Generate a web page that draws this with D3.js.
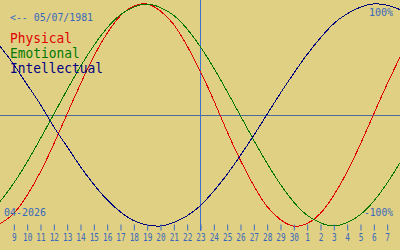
<!DOCTYPE html>
<html lang="en">
<head>
    <meta charset="UTF-8">
    <title>Biorhythm</title>
    <style>
        body { margin: 0; background: #e0d084; }
        svg { display: block; }
        text { font-family: "DejaVu Sans Mono", monospace; }
        .curve { fill: none; stroke-width: 1; shape-rendering: crispEdges; }
        .axis text { fill: #3868bc; font-size: 11px; }
        .axis line { stroke: #3c6cc0; }
    </style>
</head>
<body>
    <script src="https://d3js.org/d3.v7.min.js"></script>
    <script>

        // days shown: 8 April -> 8 May 2026, one value per day
        var days = ["8", "9", "10", "11", "12", "13", "14", "15", "16", "17", "18", "19", "20", "21", "22",
            "23", "24", "25", "26", "27", "28", "29", "30", "1", "2", "3", "4", "5", "6", "7", "8"];

        var physical = [-0.98, -0.89, -0.73, -0.52, -0.27, 0, 0.27, 0.52, 0.73, 0.89, 0.98, 1.0, 0.94, 0.82, 0.63,
            0.40, 0.14, -0.14, -0.40, -0.63, -0.82, -0.94, -1.0, -0.98, -0.89, -0.73, -0.52, -0.27, 0, 0.27, 0.52];

        var emotional = [-0.78, -0.62, -0.43, -0.22, 0, 0.22, 0.43, 0.62, 0.78, 0.90, 0.97, 1.0, 0.97, 0.90, 0.78,
            0.62, 0.43, 0.22, 0, -0.22, -0.43, -0.62, -0.78, -0.90, -0.97, -1.0, -0.97, -0.90, -0.78, -0.62, -0.43];

        var intellectual = [0.62, 0.46, 0.28, 0.10, -0.10, -0.28, -0.46, -0.62, -0.76, -0.87, -0.95, -0.99, -1.0, -0.97, -0.91,
            -0.82, -0.69, -0.54, -0.37, -0.19, 0, 0.19, 0.37, 0.54, 0.69, 0.82, 0.91, 0.97, 1.0, 0.99, 0.95];

        var birthLabel = "<-- 05/07/1981";
        var monthLabel = "04-2026";
        var series = [
            { name: "Physical", values: physical, color: "#e00000" },
            { name: "Emotional", values: emotional, color: "#007800" },
            { name: "Intellectual", values: intellectual, color: "#000080" }
        ];
        var today = 15; // index of 23 April

        var width = 400;
        var height = 250;

        var x = d3.scaleLinear().domain([0, days.length - 1]).range([0, width]);
        var y = d3.scaleLinear().domain([-1, 1]).range([226, 4]);

        var svg = d3.select("body").append("svg")
            .attr("width", width)
            .attr("height", height);

        svg.append("rect")
            .attr("width", width)
            .attr("height", height)
            .attr("fill", "#e0d084");

        // zero line
        svg.append("line")
            .attr("x1", 0).attr("x2", width)
            .attr("y1", Math.round(y(0)) + 0.5).attr("y2", Math.round(y(0)) + 0.5)
            .attr("stroke", "#4e6c98");

        // today marker
        svg.append("line")
            .attr("x1", Math.round(x(today)) + 0.5).attr("x2", Math.round(x(today)) + 0.5)
            .attr("y1", 0).attr("y2", 231)
            .attr("stroke", "#3c70d0");

        var line = d3.line()
            .x(function (d, i) { return x(i); })
            .y(function (d) { return y(d); })
            .curve(d3.curveNatural);

        svg.selectAll("path.curve")
            .data(series)
            .enter().append("path")
            .attr("class", "curve")
            .attr("stroke", function (d) { return d.color; })
            .attr("d", function (d) { return line(d.values); });

        // day axis
        var axis = d3.axisBottom(x)
            .tickValues(d3.range(1, days.length - 1))
            .tickFormat(function (i) { return days[i]; })
            .tickSize(6)
            .tickPadding(3);

        var g = svg.append("g")
            .attr("class", "axis")
            .attr("transform", "translate(0.5,224.5)")
            .call(axis);
        g.select(".domain").remove();
        g.selectAll("text")
            .attr("font-family", null)
            .attr("font-size", null)
            .attr("transform", "scale(0.7,1)");

        // labels
        svg.append("text")
            .attr("x", 10).attr("y", 21)
            .attr("fill", "#3868bc")
            .attr("font-size", "11px")
            .attr("textLength", 83)
            .attr("lengthAdjust", "spacingAndGlyphs")
            .text(birthLabel);

        svg.selectAll("text.legend")
            .data(series)
            .enter().append("text")
            .attr("class", "legend")
            .attr("x", 10)
            .attr("y", function (d, i) { return 43 + i * 15; })
            .attr("fill", function (d) { return d.color; })
            .attr("font-size", "13.5px")
            .attr("textLength", function (d) { return d.name.length * 7.75; })
            .attr("lengthAdjust", "spacingAndGlyphs")
            .text(function (d) { return d.name; });

        svg.append("text")
            .attr("x", 393).attr("y", 16)
            .attr("text-anchor", "end")
            .attr("fill", "#3868bc")
            .attr("font-size", "11px")
            .attr("textLength", 24)
            .attr("lengthAdjust", "spacingAndGlyphs")
            .text("100%");

        svg.append("text")
            .attr("x", 393).attr("y", 216)
            .attr("text-anchor", "end")
            .attr("fill", "#3868bc")
            .attr("font-size", "11px")
            .attr("textLength", 29)
            .attr("lengthAdjust", "spacingAndGlyphs")
            .text("-100%");

        svg.append("text")
            .attr("x", 4).attr("y", 216)
            .attr("fill", "#3868bc")
            .attr("font-size", "11px")
            .attr("textLength", 42)
            .attr("lengthAdjust", "spacingAndGlyphs")
            .text(monthLabel);

    </script>
</body>
</html>
